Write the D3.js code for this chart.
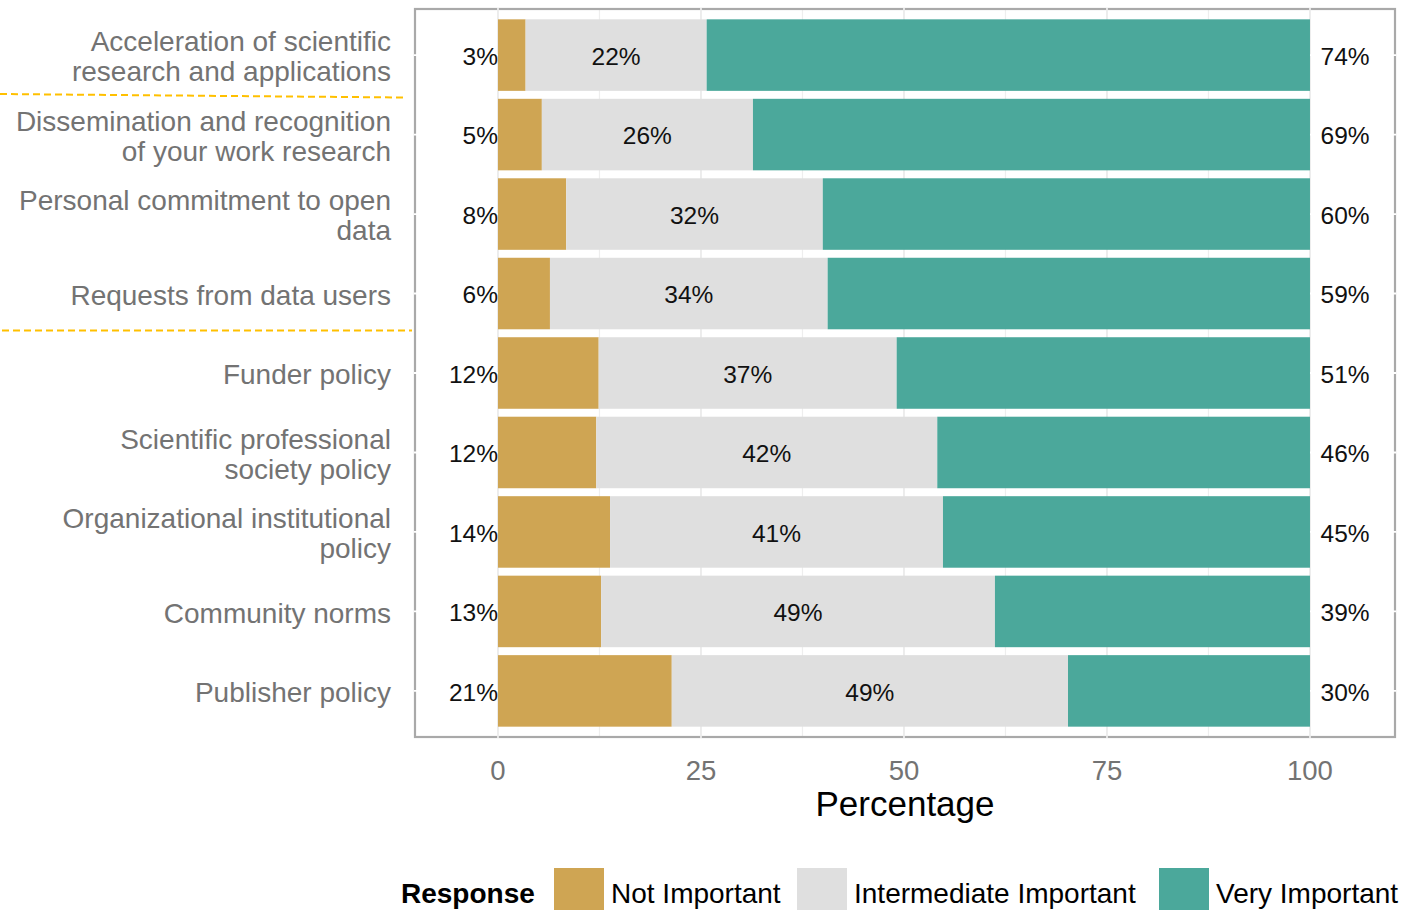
<!DOCTYPE html>
<html><head><meta charset="utf-8">
<script src="https://cdn.jsdelivr.net/npm/d3@7"></script>
<style>body{margin:0;background:#fff;overflow:hidden}svg{display:block;font-family:"Liberation Sans",Arial,sans-serif}</style>
</head><body>
<script>
const categories = [
  ["Acceleration of scientific","research and applications"],
  ["Dissemination and recognition","of your work research"],
  ["Personal commitment to open","data"],
  ["Requests from data users"],
  ["Funder policy"],
  ["Scientific professional","society policy"],
  ["Organizational institutional","policy"],
  ["Community norms"],
  ["Publisher policy"]
];
const notImportant = [3.4, 5.4, 8.4, 6.4, 12.4, 12.1, 13.8, 12.7, 21.4];
const intermediate = [22.3, 26.0, 31.6, 34.2, 36.7, 42.0, 41.0, 48.5, 48.8];
const veryImportant = [74.3, 68.6, 60.0, 59.4, 50.9, 45.9, 45.2, 38.8, 29.8];
const responses = ["Not Important","Intermediate Important","Very Important"];
const colors = ["#CFA553","#DFDFDF","#4BA89B"];
const xTicks = [0,25,50,75,100];
const xMinor = [12.5,37.5,62.5,87.5];

const W=1403,H=910;
const svg=d3.select("body").append("svg").attr("width",W).attr("height",H);
const pL=415,pR=1395,pT=9,pB=737;
const x=d3.scaleLinear().domain([-10.22,110.47]).range([pL,pR]);
const y=d3.scaleBand().domain(d3.range(categories.length)).range([pT,pB]).paddingInner(0.1).paddingOuter(0.13);

// grid
svg.selectAll(".minor").data(xMinor).join("line").attr("x1",d=>x(d)).attr("x2",d=>x(d)).attr("y1",pT-1).attr("y2",pB+1).attr("stroke","#eeeeee").attr("stroke-width",1.2);
svg.append("rect").attr("x",pL).attr("y",pT).attr("width",pR-pL).attr("height",pB-pT).attr("fill","none").attr("stroke","#a9a9a9").attr("stroke-width",2.2);
svg.selectAll(".major").data(xTicks).join("line").attr("x1",d=>x(d)).attr("x2",d=>x(d)).attr("y1",pT-1).attr("y2",pB+1).attr("stroke","#ebebeb").attr("stroke-width",1.8);
svg.selectAll(".hgrid").data(d3.range(categories.length)).join("line").attr("x1",pL-1).attr("x2",pR+1).attr("y1",d=>y(d)+y.bandwidth()/2).attr("y2",d=>y(d)+y.bandwidth()/2).attr("stroke","#ffffff").attr("stroke-width",1.8);

// bars
const rows=categories.map((c,i)=>{
  const vals=[notImportant[i],intermediate[i],veryImportant[i]];
  let acc=0; return vals.map((v,k)=>{const s={i,k,v,x0:acc,x1:acc+v};acc+=v;return s;});
});
svg.append("g").selectAll("rect").data(rows.flat()).join("rect")
  .attr("x",d=>x(d.x0)).attr("width",d=>x(d.x1)-x(d.x0))
  .attr("y",d=>y(d.i)).attr("height",y.bandwidth()).attr("fill",d=>colors[d.k]);

// labels
const lab=svg.append("g").attr("font-size",24.5).attr("fill","#111");
const cy=i=>y(i)+y.bandwidth()/2+1;
lab.selectAll(".l").data(rows.map(r=>r[0])).join("text").attr("x",x(0)).attr("y",d=>cy(d.i)).attr("dy","0.36em").attr("text-anchor","end").text(d=>Math.round(d.v)+"%");
lab.selectAll(".m").data(rows.map(r=>r[1])).join("text").attr("x",d=>x((d.x0+d.x1)/2)).attr("y",d=>cy(d.i)).attr("dy","0.36em").attr("text-anchor","middle").text(d=>Math.round(d.v)+"%");
lab.selectAll(".r").data(rows.map(r=>r[2])).join("text").attr("x",x(101.3)).attr("y",d=>cy(d.i)).attr("dy","0.36em").attr("text-anchor","start").text(d=>Math.round(d.v)+"%");

// category labels
const cl=svg.append("g").attr("font-size",28).attr("fill","#737373").attr("text-anchor","end");
categories.forEach((c,i)=>{
  const n=c.length;
  c.forEach((line,j)=>{
    cl.append("text").attr("x",391).attr("y",cy(i)+(j-(n-1)/2)*30).attr("dy","0.36em").text(line);
  });
});

// dashed separators
svg.append("line").attr("x1",0).attr("x2",403).attr("y1",94).attr("y2",97.5).attr("stroke","#FFC000").attr("stroke-width",2).attr("stroke-dasharray","7,4");
svg.append("line").attr("x1",2).attr("x2",412).attr("y1",330.5).attr("y2",330.5).attr("stroke","#FFC000").attr("stroke-width",2).attr("stroke-dasharray","7,4");

// x axis
svg.append("g").attr("font-size",27.5).attr("fill","#737373").attr("text-anchor","middle")
  .selectAll("text").data(xTicks).join("text").attr("x",d=>x(d)).attr("y",770).attr("dy","0.36em").text(d=>d);
svg.append("text").attr("x",(pL+pR)/2).attr("y",803).attr("dy","0.36em").attr("text-anchor","middle").attr("font-size",35).attr("fill","#000").text("Percentage");

// legend
const lg=svg.append("g");
lg.append("text").attr("x",401).attr("y",903).attr("font-size",28).attr("font-weight","bold").attr("fill","#000").text("Response");
const legX=[554,797,1159];
responses.forEach((r,k)=>{
  lg.append("rect").attr("x",legX[k]).attr("y",868).attr("width",50).attr("height",50).attr("fill",colors[k]);
  lg.append("text").attr("x",legX[k]+57).attr("y",903).attr("font-size",28).attr("fill","#000").text(r);
});
</script>
</body></html>
